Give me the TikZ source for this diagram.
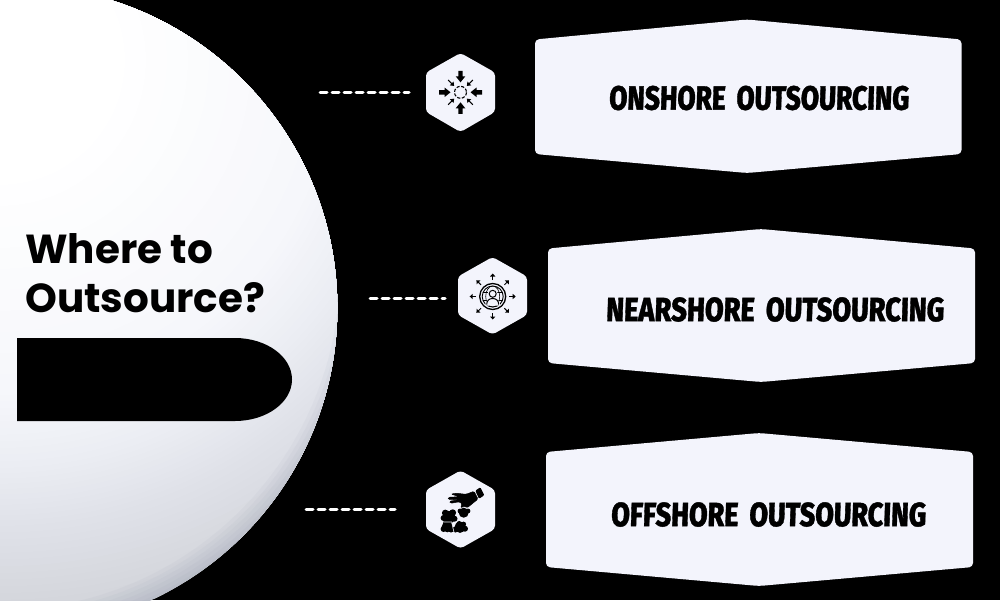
\documentclass[tikz,border=0pt]{standalone}
\usepackage{graphicx}
\usepackage{fontspec}
\setmainfont{Poppins}
\newfontfamily\labelfont[FakeSlant=0.04,FakeBold=1.2,WordSpace=1.8]{Fira Sans ExtraBold}
\definecolor{paper}{HTML}{F3F4FC}
\definecolor{sO}{HTML}{FFFFFF}
\definecolor{sA}{HTML}{F6F7FB}
\definecolor{sB}{HTML}{EBEDF3}
\definecolor{sC}{HTML}{E0E2E9}
\definecolor{sD}{HTML}{D2D4DA}
\definecolor{rim}{HTML}{7F87A0}
\tikzset{
  x=1pt,y=-1pt,
  lead/.style={white,line width=3pt,dash pattern=on 7pt off 5pt,line cap=round},
  plate/.style={fill=paper,rounded corners=4pt},
  iconplate/.style={fill=paper,rounded corners=3.5pt},
  ink/.style={fill=black,draw=none},
  handink/.style={fill=black,draw=black,line width=.5pt},
  boxlabel/.style={inner sep=0pt,black},
  titletext/.style={inner sep=0pt,anchor=west,align=left,black,font=\bfseries\fontsize{40.5}{49}\selectfont}
}
\newcommand{\lbl}[3]{\resizebox{#1pt}{#2pt}{\labelfont #3}}
% bands of the ball, outer to inner, centred on the bright spot
\newcommand{\bands}[5]{% r-outer, r-inner, colour-outer, colour-inner, steps
  \foreach \t in {1,...,#5}{
    \pgfmathsetmacro{\rr}{#1-(#1-#2)*(\t-1)/#5}
    \pgfmathsetmacro{\pp}{100*(\t-1)/#5}
    \fill[color=#4!\pp!#3] (0,60) circle[radius=\rr];
  }}
\begin{document}
\begin{tikzpicture}
\useasboundingbox (0,0) rectangle (1000,600);
\fill[black] (0,0) rectangle (1000,600);
\begin{scope}
  \clip (15,308) circle[radius=322.3];
  \bands{600}{560}{sD}{sD}{1}
  \bands{560}{466}{sD}{sC}{14}
  \bands{466}{408}{sC}{sB}{11}
  \bands{408}{335}{sB}{sA}{11}
  \bands{335}{125}{sA}{sO}{10}
  \fill[sO] (0,60) circle[radius=125];
  % darker rim along the lower right
  \foreach \r in {340,344,...,364}{
    \fill[rim,opacity=.05,even odd rule] (0,270) circle[radius=\r] (0,270) circle[radius=520];
  }
\end{scope}
% title and black pill
\node[titletext] (title) at (25,273) {Where to\\Outsource?};
\fill[black] (17,338) -- (235,338) .. controls (266.5,338) and (292,356.6) .. (292,379.5) .. controls (292,402.4) and (266.5,421) .. (235,421) -- (17,421) -- cycle;
% big boxes
\fill[plate] (535,39.5) -- (747,19.5) -- (961.5,39.5) -- (961.5,154) -- (747,173) -- (535,154) -- cycle;
\fill[plate] (548,248.5) -- (761,229) -- (975,248.5) -- (975,363) -- (761,382) -- (548,363) -- cycle;
\fill[plate] (546,452) -- (759,433) -- (973,452) -- (973,567) -- (759,586) -- (546,567) -- cycle;
\node[boxlabel] (lab1) at (759,98) {\lbl{300}{24}{ONSHORE OUTSOURCING}};
\node[boxlabel] (lab2) at (775,309.5) {\lbl{338}{24}{NEARSHORE OUTSOURCING}};
\node[boxlabel] (lab3) at (768.5,514.5) {\lbl{315}{24}{OFFSHORE OUTSOURCING}};
% icon plates
\fill[iconplate] (460.5,53) -- (495,72.5) -- (495,112) -- (460.5,132) -- (426,112) -- (426,72.5) -- cycle;
\fill[iconplate] (492.5,257) -- (527,276.5) -- (527,315) -- (492.5,334.5) -- (458,315) -- (458,276.5) -- cycle;
\fill[iconplate] (460.5,470.5) -- (495,490) -- (495,529) -- (460.5,548.5) -- (426,529) -- (426,490) -- cycle;
% dashed leads
\coordinate (a1) at (320,92); \coordinate (b1) at (409,92);
\coordinate (a2) at (370,298.5); \coordinate (b2) at (445,298.5);
\coordinate (a3) at (306,509.5); \coordinate (b3) at (395,509.5);
\draw[lead] (a1) -- (b1);
\draw[lead] (a2) -- (b2);
\draw[lead] (a3) -- (b3);
% icon 1: converging arrows
\begin{scope}[shift={(460.5,92.3)}]
  \draw[black,line width=1.1pt,dash pattern=on 3.2pt off 1.6pt] (0,0) circle[radius=6];
  \foreach \a in {0,90,180,270}{
    \fill[black,rotate=\a] (-21.5,-2.2) -- (-16,-2.2) -- (-16,-4.8) -- (-10,0) -- (-16,4.8) -- (-16,2.2) -- (-21.5,2.2) -- cycle;
  }
  \foreach \a in {45,135,225,315}{
    \begin{scope}[rotate=\a]
      \draw[black,line width=1pt] (-17.5,0) -- (-11,0);
      \fill[black] (-12.5,-2.7) -- (-9,0) -- (-12.5,2.7) -- cycle;
    \end{scope}
  }
\end{scope}
% icon 2: globe, person and outward arrows
\begin{scope}[shift={(492.7,296.5)}]
  \draw[black,line width=1.3pt] (0,0) circle[radius=13];
  \draw[black,line width=.9pt] (0,0) circle[radius=10.5];
  \draw[black,line width=.6pt] (0,0) ellipse[x radius=7,y radius=10.5];
  \draw[black,line width=.6pt] (-10,-4) -- (10,-4) (-10,4) -- (10,4);
  \fill[paper] (0,-2.5) circle[radius=5.2];
  \fill[paper] (-7.5,9) .. controls (-7.5,4) and (-4,1.5) .. (0,1.5) .. controls (4,1.5) and (7.5,4) .. (7.5,9) -- cycle;
  \draw[black,line width=1pt] (0,-2.7) circle[radius=3.5];
  \draw[black,line width=1pt] (-6,8) .. controls (-6,4) and (-3.5,2) .. (0,2) .. controls (3.5,2) and (6,4) .. (6,8);
  \foreach \a in {0,45,...,315}{
    \begin{scope}[rotate=\a]
      \draw[black,line width=1pt] (16.5,0) -- (21,0);
      \fill[black] (20,-2.7) -- (23,0) -- (20,2.7) -- cycle;
    \end{scope}
  }
\end{scope}
% icon 3: hand and puzzle pieces
\begin{scope}[shift={(300,460)}]
  \fill[ink,rounded corners=1pt] (175.3,30.7) -- (180.3,27.3) -- (184.3,35.3) -- (179,38.7) -- cycle;
  \fill[handink,rounded corners=1.2pt] (174,31.3) -- (166,34.3) -- (156.7,33.3) -- (151,34) -- (159.3,36.7)
     -- (148.7,37.3) -- (148,39.3) -- (158.7,39.7) -- (149.3,41.3) -- (150.7,43.3) -- (159.3,41.7)
     -- (162,43.7) -- (160.7,48) -- (164,46) -- (167.3,47.7) -- (172.7,43.3) -- (178,39) -- cycle;
  \fill[ink] (163.7,52.7) circle[radius=5] (168,51) circle[radius=2.4] (160,51) circle[radius=2.4];
  \fill[ink] (148.7,57.3) circle[radius=6.4] (145.3,53) circle[radius=3.4] (152.7,52.7) circle[radius=3.4] (143.6,58) circle[radius=3] (154.5,58.7) circle[radius=3];
  \fill[ink] (147.3,66.7) circle[radius=5.6] (143.6,69) circle[radius=3] (151,69.5) circle[radius=3] (146,63) circle[radius=3];
  \fill[ink] (160,67.3) circle[radius=5.6] (155.5,69.5) circle[radius=3] (165,68.7) circle[radius=3] (159.3,64) circle[radius=3] (163.5,64.2) circle[radius=2.6];
  \draw[paper,line width=.6pt] (143.3,62) -- (151.7,62) -- (153,68.3) -- (154,72);
\end{scope}
\end{tikzpicture}
\end{document}
